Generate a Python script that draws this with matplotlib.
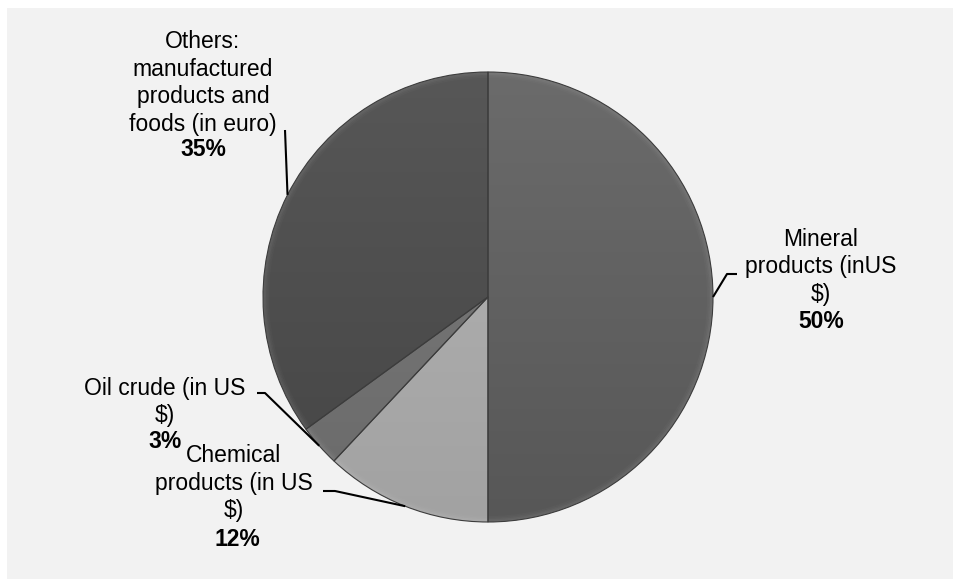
import numpy as np
import matplotlib
matplotlib.use('Agg')
import matplotlib.pyplot as plt
from matplotlib.patches import Wedge, Rectangle
from matplotlib.colors import LinearSegmentedColormap

# Export shares by product group
names = [
    ["Mineral", "products (inUS", "$)"],
    ["Chemical", "products (in US", "$)"],
    ["Oil crude (in US", "$)"],
    ["Others:", "manufactured", "products and", "foods (in euro)"],
]
shares = [50, 12, 3, 35]

# grey shading per slice (top of pie -> bottom of pie)
top_colors = ["#6b6b6b", "#b4b4b4", "#7c7c7c", "#575757"]
bottom_colors = ["#575757", "#a2a2a2", "#6a6a6a", "#454545"]

# label placement in pixels: (centre x, first line y, percent x, percent y)
label_pos = [
    (821, 239, 821, 322),
    (234, 456, 237, 539),
    (165, 388, 165, 441),
    (203, 42, 203, 150),
]
# elbow points of the leader lines, from the label side towards the pie
leader_elbows = [
    [(737, 274), (727, 274)],
    [(323, 491), (335, 491)],
    [(257, 393), (265, 393)],
    [(285, 130)],
]
line_step = 27.5

W, H = 954, 579
cx, cy, r = 488, 297, 225

fig = plt.figure(figsize=(W / 100, H / 100), dpi=100)
fig.patch.set_facecolor('#f2f2f2')
ax = fig.add_axes([0, 0, 1, 1])
ax.set_facecolor('#f2f2f2')
# thin white margin on the top and left
ax.add_patch(Rectangle((0, 0), W, 8, facecolor='white', edgecolor='none', zorder=0))
ax.add_patch(Rectangle((0, 0), 7, H, facecolor='white', edgecolor='none', zorder=0))

wedges, _ = ax.pie(shares, startangle=-90, counterclock=True, center=(cx, cy),
                   radius=r, frame=True,
                   wedgeprops=dict(facecolor='none', edgecolor='#3c3c3c', linewidth=0.8, zorder=3))

grad = np.linspace(0, 1, 256)[:, None]
for w, c0, c1 in zip(wedges, top_colors, bottom_colors):
    cmap = LinearSegmentedColormap.from_list('shade', [c0, c1])
    im = ax.imshow(grad, cmap=cmap, extent=(cx - r, cx + r, cy + r, cy - r),
                   aspect='auto', zorder=2, interpolation='bilinear')
    im.set_clip_path(w)
    # soft bevel along the rim, fading inwards
    for k, a in enumerate([0.10, 0.07, 0.04, 0.02]):
        ax.add_patch(Wedge((cx, cy), r - 1.5 * k, w.theta1, w.theta2, width=1.5,
                           facecolor='white', alpha=a, edgecolor='none', zorder=2.5))

txt = dict(family='Liberation Sans', fontsize=16.5, color='black', ha='center', va='center')
for w, lines, val, (nx, ny, px, py), elbows in zip(wedges, names, shares, label_pos, leader_elbows):
    for i, line in enumerate(lines):
        ax.text(nx, ny + i * line_step, line, **txt)
    ax.text(px, py, f"{val}%", fontweight='bold', **txt)
    mid = np.deg2rad((w.theta1 + w.theta2) / 2)
    edge = (cx + r * np.cos(mid), cy + r * np.sin(mid))
    xs = [p[0] for p in elbows] + [edge[0]]
    ys = [p[1] for p in elbows] + [edge[1]]
    ax.plot(xs, ys, color='black', linewidth=1.5, zorder=4, solid_capstyle='butt')

ax.set_xlim(0, W)
ax.set_ylim(H, 0)
ax.axis('off')

fig.savefig('out.png', dpi=100, facecolor=fig.get_facecolor())
